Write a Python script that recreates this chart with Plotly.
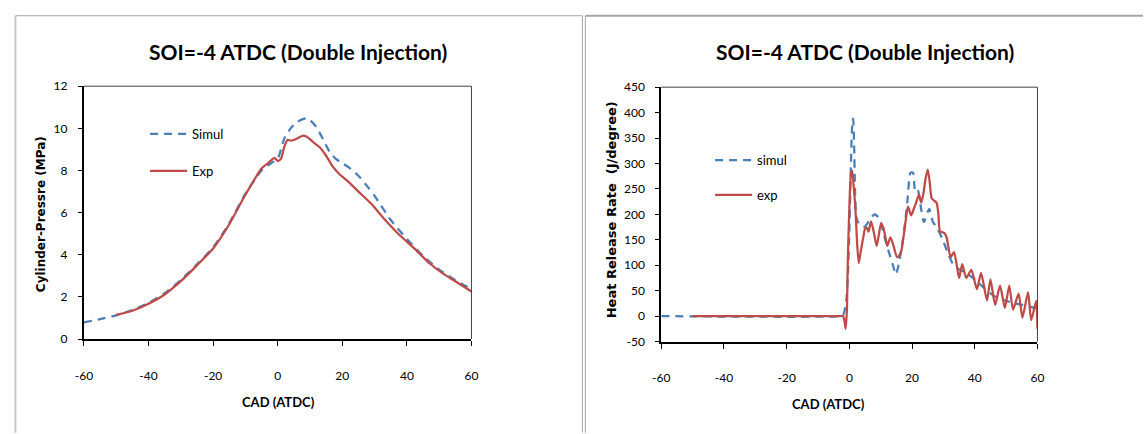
import plotly.graph_objects as go

W, H = 1148, 434

# ---------------- data: cylinder pressure ----------------
cad_sim_p = [-60, -55, -50, -45, -40, -35, -30, -25, -20, -15, -10, -5, -2, 0, 1, 2, 4, 6, 8, 9,
             10, 12, 14, 16, 18, 20, 22, 25, 28, 30, 35, 40, 45, 50, 55, 60]
p_sim = [0.8, 0.95, 1.13, 1.38, 1.72, 2.18, 2.8, 3.55, 4.35, 5.5, 6.9, 8.0, 8.35, 8.55, 9.0, 9.5, 10.0, 10.3, 10.45, 10.48,
         10.4, 10.05, 9.5, 8.9, 8.55, 8.35, 8.15, 7.75, 7.2, 6.8, 5.65, 4.75, 3.95, 3.3, 2.8, 2.38]

cad_exp_p = [-50, -45, -40, -35, -30, -25, -20, -15, -10, -5, -3, -1, 0, 1, 2, 3, 4, 5, 7, 8, 9,
             11, 13, 15, 17, 19, 22, 25, 29, 33, 37, 43, 47, 51, 55, 60]
p_exp = [1.15, 1.35, 1.68, 2.12, 2.75, 3.5, 4.3, 5.45, 6.85, 8.1, 8.35, 8.6, 8.45, 8.55, 9.1, 9.45, 9.42, 9.45, 9.6, 9.65, 9.6,
         9.35, 9.1, 8.7, 8.2, 7.85, 7.45, 7.0, 6.42, 5.7, 5.05, 4.2, 3.6, 3.13, 2.75, 2.26]

# ---------------- data: heat release rate ----------------
cad_sim_h = [-60, -3, -2, -1, -0.5, 0, 0.5, 1.0, 1.2, 1.5, 1.8, 2.2, 3, 4, 5, 6.5, 8, 9, 10, 11, 12, 13, 14, 14.8,
             15.5, 16.5, 17.5, 18.5, 19.5, 20.3, 21, 21.8, 22.8, 23.8, 25, 25.5, 26.6, 28, 29.7, 31.3, 33, 35, 37,
             40, 43, 46, 50, 55, 60]
h_sim = [0, 0, 2, 30, 75, 170, 300, 385, 388, 340, 250, 195, 182, 177, 176, 190, 200, 196, 185, 160, 138, 118, 98, 82,
         95, 128, 170, 225, 282, 282, 245, 248, 214, 185, 205, 211, 186, 173, 151, 126, 103, 92, 86,
         72, 55, 40, 30, 22, 15]

cad_exp_h = [-50, -3, -2, -1.5, -1.2, -0.8, -0.5, 0, 0.5, 0.9, 1.3, 1.9, 2.5, 3.0, 3.7, 4.5, 5.0, 5.6, 6.1, 6.9,
             7.8, 8.7, 9.4, 10.1, 10.8, 11.5, 12.1, 13.1, 14.0, 15.2, 16.0, 16.6, 17.6, 18.7, 19.7, 20.5, 21.3,
             22.2, 22.9, 23.6, 24.3, 25.0, 25.6, 26.3, 27.8, 28.4, 28.9, 30.3, 31.0, 32.3, 33.4, 35.0, 36.0,
             37.3, 38.9, 40.7, 42.0, 43.9, 45.0, 46.5, 48.05, 49.6, 51.0, 52.2, 54.0, 55.2, 57.0, 58.0, 59.6, 60]
h_exp = [0, 0, 0, -12, -25, 10, 107, 215, 280, 286, 260, 214, 140, 104, 130, 157, 172, 173, 166, 186,
         165, 138, 160, 182, 175, 155, 138, 155, 140, 116, 120, 129, 170, 215, 198, 210, 223,
         239, 223, 240, 270, 288, 265, 231, 223, 200, 167, 163, 155, 116, 126, 75, 102,
         75, 91, 53, 85, 31, 72, 22, 60, 16, 60, 13, 44, -3, 47, -8, 30, -25]

x_ticks = [-60, -40, -20, 0, 20, 40, 60]
x_ticktext = ["-60", "-40", "-20", "0", "20", "40", "60"]
p_ticks = [0, 2, 4, 6, 8, 10, 12]
h_ticks = [-50, 0, 50, 100, 150, 200, 250, 300, 350, 400, 450]
h_ticktext = ["-50", "0", "50", "100", "150", "200", "250", "300", "350", "400", "450"]
title_text = "SOI=-4 ATDC (Double Injection)"

BLUE = "#4A7EBB"
RED = "#BE4B48"
NARROW = "Lato, Roboto, sans-serif"
WIDE = "DejaVu Sans, Arial, sans-serif"


def px(x):
    return x / W


def py(y):
    return 1 - y / H


fig = go.Figure()

fig.add_trace(go.Scatter(x=cad_sim_p, y=p_sim, name="Simul", mode="lines", xaxis="x", yaxis="y",
                         line=dict(color=BLUE, width=2.25, dash="8px,6px", shape="spline", smoothing=0.6),
                         legend="legend", legendgroup="a"))
fig.add_trace(go.Scatter(x=cad_exp_p, y=p_exp, name="Exp", mode="lines", xaxis="x", yaxis="y",
                         line=dict(color=RED, width=2.25, shape="spline", smoothing=0.6),
                         legend="legend", legendgroup="b"))
fig.add_trace(go.Scatter(x=cad_sim_h, y=h_sim, name="simul", mode="lines", xaxis="x2", yaxis="y2",
                         line=dict(color=BLUE, width=2.25, dash="8px,6px", shape="spline", smoothing=0.6),
                         legend="legend2", legendgroup="c"))
fig.add_trace(go.Scatter(x=cad_exp_h, y=h_exp, name="exp", mode="lines", xaxis="x2", yaxis="y2",
                         line=dict(color=RED, width=2.25, shape="spline", smoothing=0.6),
                         legend="legend2", legendgroup="d"))

# plot area pixel boxes
L1 = dict(x0=76, x1=469, y0=81, y1=343)
L2 = dict(x0=661.5, x1=1043, y0=82, y1=345.5)

tickfont = dict(family=NARROW, size=12, color="#000000")
common_x = dict(range=[-60, 60], tickvals=x_ticks, ticktext=x_ticktext, ticks="outside", ticklen=5, tickwidth=1,
                tickcolor="#000", showline=True, linecolor="#000", linewidth=2, showgrid=False, zeroline=False,
                tickfont=tickfont, ticklabelstandoff=19, fixedrange=True)
common_y = dict(ticks="outside", ticklen=4, tickwidth=1, tickcolor="#000",
                showline=True, linecolor="#000", linewidth=2, showgrid=False, zeroline=False,
                tickfont=tickfont, ticklabelstandoff=8, fixedrange=True)

fig.update_layout(
    width=W, height=H,
    margin=dict(l=0, r=0, t=0, b=0),
    paper_bgcolor="white", plot_bgcolor="white",
    xaxis=dict(domain=[px(L1["x0"]), px(L1["x1"])], anchor="y", **common_x),
    yaxis=dict(domain=[py(L1["y1"]), py(L1["y0"])], anchor="x", range=[0, 12], tickvals=p_ticks, **common_y),
    xaxis2=dict(domain=[px(L2["x0"]), px(L2["x1"])], anchor="y2", **common_x),
    yaxis2=dict(domain=[py(L2["y1"]), py(L2["y0"])], anchor="x2", range=[-50, 450], tickvals=h_ticks,
                ticktext=h_ticktext, **common_y),
    legend=dict(x=px(138), y=py(115), xanchor="left", yanchor="top", bgcolor="rgba(0,0,0,0)",
                font=dict(family=NARROW, size=13, color="#000"), traceorder="grouped", tracegroupgap=17,
                itemwidth=37),
    legend2=dict(x=px(711), y=py(142), xanchor="left", yanchor="top", bgcolor="rgba(0,0,0,0)",
                 font=dict(family=NARROW, size=13, color="#000"), traceorder="grouped", tracegroupgap=15,
                 itemwidth=37),
    showlegend=True,
)

shapes = []
# outer panel borders
gray = "#A6A6A6"
shapes += [
    dict(type="line", xref="paper", yref="paper", x0=px(6.5), x1=px(6.5), y0=py(8), y1=py(440), line=dict(color="#C8C8C8", width=2)),
    dict(type="line", xref="paper", yref="paper", x0=px(6.5), x1=px(581.5), y0=py(8), y1=py(8), line=dict(color=gray, width=1)),
    dict(type="line", xref="paper", yref="paper", x0=px(581.5), x1=px(581.5), y0=py(8), y1=py(440), line=dict(color=gray, width=1)),
    dict(type="line", xref="paper", yref="paper", x0=px(584.5), x1=px(584.5), y0=py(8), y1=py(440), line=dict(color=gray, width=1)),
    dict(type="line", xref="paper", yref="paper", x0=px(584.5), x1=px(1150), y0=py(8), y1=py(8), line=dict(color=gray, width=2)),
]
# thin top/right frame of plot areas
for b in (L1, L2):
    shapes += [
        dict(type="line", xref="paper", yref="paper", x0=px(b["x0"]), x1=px(b["x1"]), y0=py(b["y0"]), y1=py(b["y0"]),
             line=dict(color="#404040", width=1)),
        dict(type="line", xref="paper", yref="paper", x0=px(b["x1"]), x1=px(b["x1"]), y0=py(b["y0"]), y1=py(b["y1"]),
             line=dict(color="#404040", width=1)),
    ]
fig.update_layout(shapes=shapes)

ann = []
for cx in (293, 868):
    ann.append(dict(text="<b>" + title_text + "</b>", x=px(cx), y=py(45), xref="paper", yref="paper",
                    xanchor="center", yanchor="middle", showarrow=False,
                    font=dict(family=NARROW, size=21, color="#000")))
ann.append(dict(text="<b>CAD (ATDC)</b>", x=px(273), y=py(408), xref="paper", yref="paper",
                xanchor="center", yanchor="middle", showarrow=False, font=dict(family=NARROW, size=13, color="#000")))
ann.append(dict(text="<b>CAD (ATDC)</b>", x=px(831), y=py(410), xref="paper", yref="paper",
                xanchor="center", yanchor="middle", showarrow=False, font=dict(family=NARROW, size=13, color="#000")))
ann.append(dict(text="<b>Cylinder-Pressre (MPa)</b>", x=px(32), y=py(214), xref="paper", yref="paper",
                xanchor="center", yanchor="middle", showarrow=False, textangle=-90,
                font=dict(family=WIDE, size=12, color="#000")))
ann.append(dict(text="<b>Heat Release Rate  (J/degree)</b>", x=px(611), y=py(209), xref="paper", yref="paper",
                xanchor="center", yanchor="middle", showarrow=False, textangle=-90,
                font=dict(family=WIDE, size=13, color="#000")))
fig.update_layout(annotations=ann)

fig.write_html("out.html", config={"displayModeBar": False, "staticPlot": True},
               post_script="document.body.style.margin='0';document.body.style.overflow='hidden';")
